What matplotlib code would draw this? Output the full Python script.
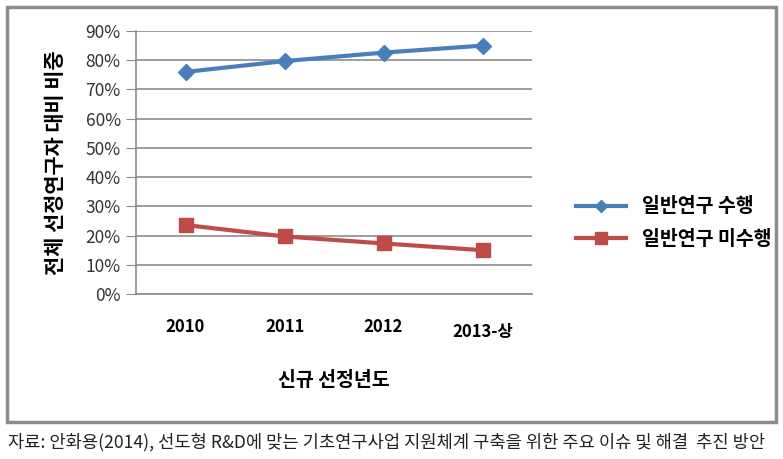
import matplotlib

matplotlib.use("Agg")

import matplotlib.pyplot as plt
from matplotlib.patches import Rectangle
from matplotlib.ticker import FuncFormatter

plt.rcParams["font.family"] = ["Noto Sans CJK KR", "DejaVu Sans"]

years = ["2010", "2011", "2012", "2013-상"]
general_done = [76.0, 79.7, 82.6, 85.0]
general_not_done = [23.6, 19.7, 17.3, 15.0]
series_names = ["일반연구 수행", "일반연구 미수행"]
y_ticks = list(range(0, 100, 10))

BLUE = "#4A7EBB"
RED = "#BE4B48"
GRID = "#8C8C8C"

fig = plt.figure(figsize=(7.83, 4.59), dpi=100)
ax = fig.add_axes([136 / 783, 1 - 294 / 459, 396 / 783, 263 / 459])

x = list(range(len(years)))
l1, = ax.plot(x, general_done, color=BLUE, linewidth=3, marker="D", markersize=8,
              markeredgecolor=BLUE, label=series_names[0])
l2, = ax.plot(x, general_not_done, color=RED, linewidth=3, marker="s", markersize=10,
              markeredgecolor=RED, label=series_names[1])

ax.set_xlim(-0.5, len(years) - 0.5)
ax.set_ylim(0, 90)
ax.set_yticks(y_ticks)
ax.yaxis.set_major_formatter(FuncFormatter(lambda v, _: f"{int(v)}%"))
ax.yaxis.grid(True, color=GRID, linewidth=1.2)
ax.set_axisbelow(True)
for side in ["top", "right"]:
    ax.spines[side].set_visible(False)
ax.spines["left"].set_color(GRID)
ax.spines["bottom"].set_color(GRID)
ax.spines["left"].set_linewidth(1.2)
ax.spines["bottom"].set_linewidth(1.2)
ax.tick_params(axis="y", length=7, color=GRID, labelsize=12.5, labelcolor="#333333", pad=4)
ax.tick_params(axis="x", length=0, pad=17)
ax.set_xticks(x)
ax.set_xticklabels(years, fontsize=12, fontweight="bold")
ax.get_xticklabels()[-1].set_y(-0.02)

ax.set_xlabel("신규 선정년도", fontsize=14, fontweight="bold", labelpad=22)
ax.set_ylabel("전체 선정연구자 대비 비중", fontsize=15, fontweight="bold", labelpad=14)

fig.legend(handles=[l1, l2], loc="upper left", bbox_to_anchor=(558 / 783, 1 - 180 / 459),
           frameon=False, handlelength=2.6, labelspacing=0.7, markerscale=0.8,
           prop={"weight": "bold", "size": 14})

fig.patches.append(Rectangle((7 / 783, 1 - 422 / 459), 769 / 783, 415 / 459,
                             transform=fig.transFigure, fill=False,
                             edgecolor="#8C8C8C", linewidth=2.5))

fig.text(8 / 783, 1 - 442 / 459,
         "자료: 안화용(2014), 선도형 R&D에 맞는 기초연구사업 지원체계 구축을 위한 주요 이슈 및 해결  추진 방안",
         fontsize=12.7, va="center", ha="left", color="#222222")

fig.savefig("out.png", dpi=100, facecolor="white")
